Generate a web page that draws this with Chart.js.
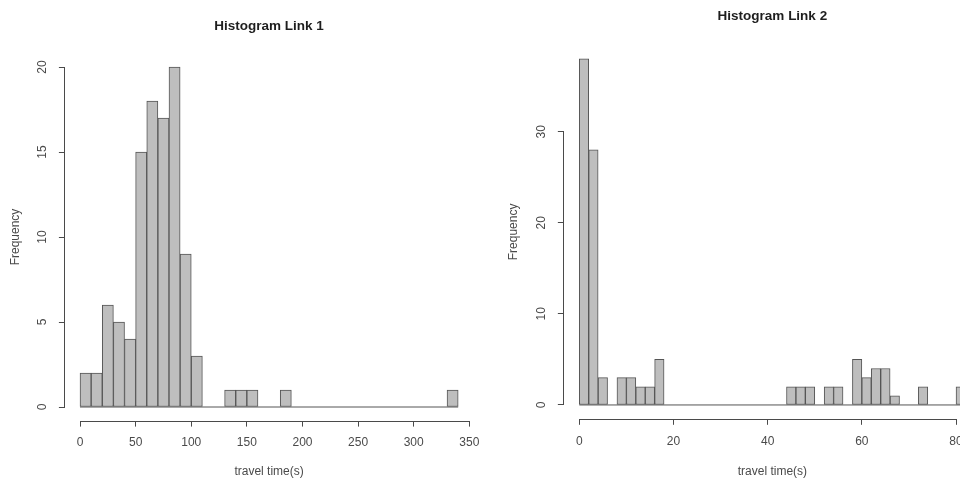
<!DOCTYPE html>
<html><head><meta charset="utf-8">
<script src="https://cdn.jsdelivr.net/npm/chart.js@4.4.0/dist/chart.umd.min.js"></script>
<style>
html,body{margin:0;padding:0;background:#fff;overflow:hidden;width:960px;height:479px;}
#c1{position:absolute;left:0;top:0;}
#c2{position:absolute;left:480px;top:0;}
</style></head><body>
<canvas id="c1" width="500" height="479"></canvas>
<canvas id="c2" width="520" height="479"></canvas>
<script>
// ---------- Histogram Link 1 (bin width 10 s) ----------
const link1Title = 'Histogram Link 1';
const link1BinWidth = 10;
const link1BinStarts = [0,10,20,30,40,50,60,70,80,90,100,110,120,130,140,150,160,170,180,190,200,210,220,230,240,250,260,270,280,290,300,310,320,330];
const link1Counts    = [2, 2, 6, 5, 4,15,18,17,20, 9,  3,  0,  0,  1,  1,  1,  0,  0,  1,  0,  0,  0,  0,  0,  0,  0,  0,  0,  0,  0,  0,  0,  0,  1];
const link1XTicks = [0,50,100,150,200,250,300,350];
const link1YTicks = [0,5,10,15,20];

// ---------- Histogram Link 2 (bin width 2 s) ----------
const link2Title = 'Histogram Link 2';
const link2BinWidth = 2;
const link2BinStarts = [0,2,4,6,8,10,12,14,16,18,20,22,24,26,28,30,32,34,36,38,40,42,44,46,48,50,52,54,56,58,60,62,64,66,68,70,72,74,76,78,80];
const link2Counts    = [38,28,3,0,3,3,2,2,5,0,0,0,0,0,0,0,0,0,0,0,0,0,2,2,2,0,2,2,0,5,3,4,4,1,0,0,2,0,0,0,2];
const link2XTicks = [0,20,40,60,80];
const link2YTicks = [0,10,20,30];

const axisLabelX = 'travel time(s)';
const axisLabelY = 'Frequency';

const FONT = "'Liberation Sans', Arial, Helvetica, sans-serif";
const INK = '#4a4a4a';

const rAxisLines = {
  id: 'rAxisLines',
  afterDraw(chart) {
    const {ctx, chartArea, scales} = chart;
    const x = scales.x, y = scales.y;
    const xt = x.ticks, yt = y.ticks;
    ctx.save();
    ctx.strokeStyle = INK;
    ctx.lineWidth = 1;
    ctx.beginPath();
    const yb = Math.round(chartArea.bottom) + 0.5;
    ctx.moveTo(x.getPixelForValue(xt[0].value), yb);
    ctx.lineTo(x.getPixelForValue(xt[xt.length - 1].value), yb);
    const xl = Math.round(chartArea.left) - 0.5;
    ctx.moveTo(xl, y.getPixelForValue(yt[0].value));
    ctx.lineTo(xl, y.getPixelForValue(yt[yt.length - 1].value));
    ctx.stroke();
    ctx.restore();
  }
};

function makeHist(canvasId, p) {
  const bars = [];
  p.starts.forEach((s, i) => {
    if (p.counts[i] > 0) bars.push({x: s + p.width / 2, y: p.counts[i]});
  });
  const lastEnd = p.starts[p.starts.length - 1] + p.width;
  return new Chart(document.getElementById(canvasId), {
    data: {
      datasets: [
        {
          type: 'bar',
          data: bars,
          backgroundColor: '#bebebe',
          borderColor: '#555555',
          borderWidth: 1,
          borderSkipped: false,
          barPercentage: 1,
          categoryPercentage: 1,
          order: 1
        },
        {
          type: 'line',
          data: [{x: p.starts[0], y: 0}, {x: lastEnd, y: 0}],
          borderColor: '#555555',
          borderWidth: 1,
          pointRadius: 0,
          order: 2
        }
      ]
    },
    plugins: [rAxisLines],
    options: {
      responsive: false,
      animation: false,
      devicePixelRatio: 1,
      layout: {padding: {left: 0, top: 0, bottom: 0, right: p.padRight}},
      plugins: {
        legend: {display: false},
        tooltip: {enabled: false},
        title: {
          display: true,
          fullSize: false,
          text: p.title,
          color: '#1e1e1e',
          font: {family: FONT, size: 13.5, weight: 'bold'},
          padding: {top: p.titleTop, bottom: p.titleBottom}
        }
      },
      scales: {
        x: {
          type: 'linear',
          offset: false,
          min: p.xRange[0],
          max: p.xRange[1],
          afterBuildTicks: s => { s.ticks = p.xTicks.map(v => ({value: v})); },
          afterFit: s => { s.height = p.xAxisHeight; },
          grid: {display: true, offset: false, drawOnChartArea: false, drawTicks: true, tickLength: 6, color: INK, lineWidth: 1},
          border: {display: false},
          ticks: {color: INK, font: {family: FONT, size: 12}, padding: p.xTickPad, maxRotation: 0, autoSkip: false},
          title: {display: true, text: axisLabelX, color: INK, font: {family: FONT, size: 12}, padding: {top: 0, bottom: 0}}
        },
        y: {
          type: 'linear',
          min: p.yRange[0],
          max: p.yRange[1],
          afterBuildTicks: s => { s.ticks = p.yTicks.map(v => ({value: v})); },
          afterFit: s => { s.width = p.yAxisWidth; },
          grid: {display: true, drawOnChartArea: false, drawTicks: true, tickLength: 6, color: INK, lineWidth: 1},
          border: {display: false},
          ticks: {color: INK, font: {family: FONT, size: 12}, padding: p.yTickPad, minRotation: 90, maxRotation: 90, crossAlign: 'center', autoSkip: false},
          title: {display: true, text: axisLabelY, color: INK, font: {family: FONT, size: 12}, padding: {top: p.yTitlePad, bottom: 0}}
        }
      }
    }
  });
}

makeHist('c1', {
  title: link1Title, starts: link1BinStarts, counts: link1Counts, width: link1BinWidth,
  xTicks: link1XTicks, yTicks: link1YTicks,
  xRange: [-13.6, 353.6], yRange: [-0.8, 20.8],
  padRight: 26.7, yAxisWidth: 64.9, xAxisHeight: 58.4,
  titleTop: 17.9, titleBottom: 19.3, xTickPad: 9.2, yTickPad: 9.2, yTitlePad: 8.3
});

makeHist('c2', {
  title: link2Title, starts: link2BinStarts, counts: link2Counts, width: link2BinWidth,
  xTicks: link2XTicks, yTicks: link2YTicks,
  xRange: [-3.28, 85.28], yRange: [-1.52, 39.52],
  padRight: 19.1, yAxisWidth: 83.85, xAxisHeight: 60.2,
  titleTop: 7.9, titleBottom: 20.9, xTickPad: 9.7, yTickPad: 9.45, yTitlePad: 26.8
});
</script>
</body></html>
